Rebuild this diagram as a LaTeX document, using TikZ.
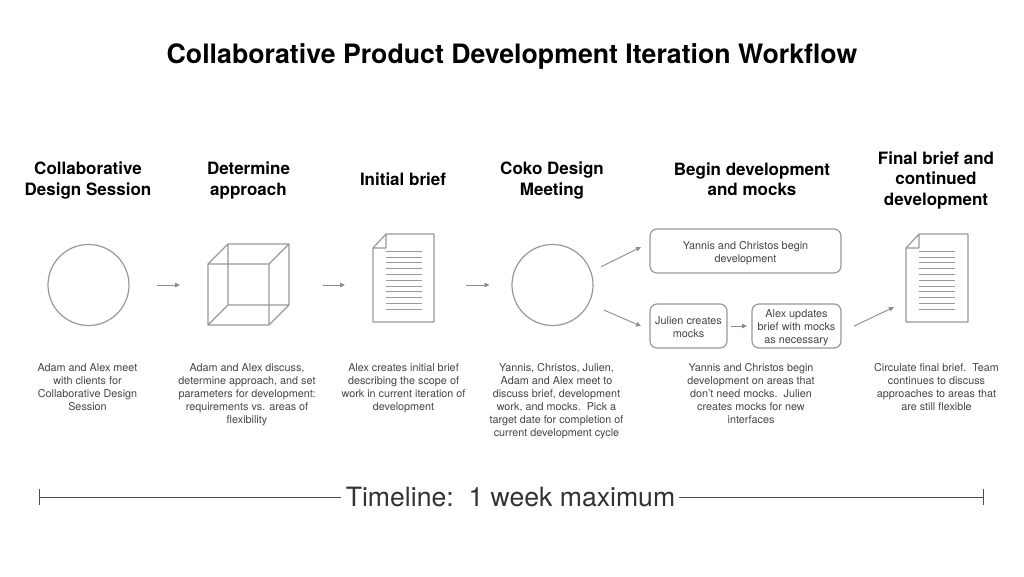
\documentclass[tikz,border=0pt]{standalone}
\usepackage{fontspec}
\setmainfont{TeX Gyre Heros}
\usetikzlibrary{arrows.meta}
\definecolor{shapeline}{gray}{0.6}
\definecolor{arrowline}{gray}{0.55}
\definecolor{bodytext}{gray}{0.27}
\newcommand{\fs}[2]{\fontsize{#1}{#2}\selectfont}
\tikzset{
  shapeobj/.style={draw=shapeline,line width=1.2pt,inner sep=0,outer sep=0},
  ghost/.style={inner sep=0,outer sep=0},
  roundbox/.style={shapeobj,rounded corners=7pt,align=center,text=bodytext,font=\fs{10.85}{13.2}},
  conn/.style={draw=arrowline,line width=0.9pt,-{Triangle[length=5pt,width=4.5pt]}},
  heading/.style={align=center,font=\bfseries\fs{17}{20.7},text=black},
  desc/.style={align=center,font=\fs{10.8}{12.9},text=bodytext},
  timeline/.style={draw=black!70,line width=0.7pt},
  rule/.style={draw=shapeline,line width=1pt},
}
\begin{document}
\begin{tikzpicture}[x=1pt,y=-1pt]
\useasboundingbox (0,0) rectangle (1024,576);
\fill[white] (0,0) rectangle (1024,576);
\node[ghost,font=\bfseries\fs{26.7}{30}] (title) at (512,56) {Collaborative Product Development Iteration Workflow};

% headings
\node[heading] (h1) at (88,180.3) {Collaborative\\Design Session};
\node[heading] (h2) at (248.5,180.3) {Determine\\approach};
\node[heading] (h3) at (403,179) {Initial brief};
\node[heading] (h4) at (552,180.3) {Coko Design\\Meeting};
\node[heading] (h5) at (752,179.3) {Begin development\\and mocks};
\node[heading] (h6) at (936,180.5) {Final brief and\\continued\\development};

% circle 1
\node[shapeobj,circle,minimum size=81pt] (c1) at (88.5,285) {};
% cube
\node[ghost,minimum width=81pt,minimum height=81pt] (cube) at (248.5,285) {};
\draw[shapeobj,line join=round] (208,264) rectangle (269,325)
  (228,244) rectangle (289,305)
  (208,264) -- (228,244) (269,264) -- (289,244)
  (208,325) -- (228,305) (269,325) -- (289,305);
% doc 1
\node[ghost,minimum width=61pt,minimum height=88pt] (doc1) at (403.5,278) {};
\draw[shapeobj,line join=round] (386,234) -- (434,234) -- (434,322) -- (373,322) -- (373,248) -- (386,234) -- (386,248) -- (373,248);
\foreach \i in {0,...,10} \draw[rule] (386,251.3+5.8*\i) -- (422,251.3+5.8*\i);
% circle 2
\node[shapeobj,circle,minimum size=81pt] (c2) at (552.5,285) {};
% boxes
\node[roundbox,minimum width=191pt,minimum height=44pt] (b1) at (745.5,251) {\rule{0pt}{12pt}Yannis and Christos begin\\development};
\node[roundbox,minimum width=77pt,minimum height=44pt] (b2) at (688.5,326) {\rule{0pt}{10.5pt}Julien creates\\mocks};
\node[roundbox,minimum width=89pt,minimum height=44pt,font=\fs{10.85}{13}] (b3) at (796.5,326) {\rule{0pt}{12pt}Alex updates\\brief with mocks\\as necessary};
% doc 2
\node[ghost,minimum width=62pt,minimum height=88pt] (doc2) at (937,278) {};
\draw[shapeobj,line join=round] (919,234) -- (968,234) -- (968,322) -- (906,322) -- (906,248) -- (919,234) -- (919,248) -- (906,248);
\foreach \i in {0,...,10} \draw[rule] (919,251.3+5.8*\i) -- (955,251.3+5.8*\i);

% connectors
\draw[conn,shorten <=28pt,shorten >=28pt] (c1.east) -- (cube.west);
\draw[conn,shorten <=34pt,shorten >=28pt] (cube.east) -- (doc1.west |- cube.east);
\draw[conn,shorten <=32pt,shorten >=22.5pt] (doc1.east |- c2.west) -- (c2.west);
\draw[conn,shorten <=11.4pt,shorten >=10pt] (c2.19) -- (b1.175);
\draw[conn,shorten <=16.6pt,shorten >=9.8pt] (c2.-27) -- (b2.186);
\draw[conn,shorten <=4pt,shorten >=5pt] (b2.east) -- (b3.west);
\draw[conn,shorten <=14.4pt,shorten >=13.3pt] (b3.-8) -- (doc2.217);

% descriptions
\node[desc,anchor=north] (d1) at (87.5,360.3) {Adam and Alex meet\\with clients for\\Collaborative Design\\Session};
\node[desc,anchor=north] (d2) at (247,360.3) {Adam and Alex discuss,\\determine approach, and set\\parameters for development:\\requirements vs. areas of\\flexibility};
\node[desc,anchor=north] (d3) at (403.5,360.3) {Alex creates initial brief\\describing the scope of\\work in current iteration of\\development};
\node[desc,anchor=north] (d4) at (556.5,360.3) {Yannis, Christos, Julien,\\Adam and Alex meet to\\discuss brief, development\\work, and mocks.\ \ Pick a\\target date for completion of\\current development cycle};
\node[desc,anchor=north] (d5) at (751,360.3) {Yannis and Christos begin\\development on areas that\\don't need mocks.\ \ Julien\\creates mocks for new\\interfaces};
\node[desc,anchor=north] (d6) at (936.5,360.3) {Circulate final brief.\ \ Team\\continues to discuss\\approaches to areas that\\are still flexible};

% timeline
\node[ghost,font=\fs{26.6}{30},text=black!80] (tl) at (510.5,497) {Timeline:\ \ 1 week maximum};
\coordinate (tlL) at (39,497);
\coordinate (tlR) at (983,497);
\draw[timeline,shorten >=5pt] (tlL) -- (tl.west);
\draw[timeline,shorten <=4pt] (tl.east) -- (tlR);
\draw[timeline] (39,489) -- (39,505);
\draw[timeline] (983,489) -- (983,505);
\end{tikzpicture}
\end{document}
